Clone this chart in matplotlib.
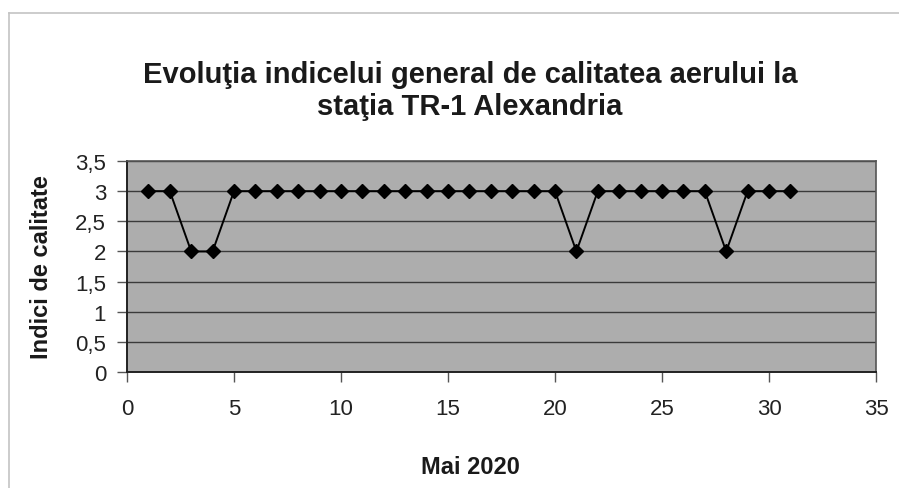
import matplotlib
matplotlib.use("Agg")
import matplotlib.pyplot as plt
import matplotlib.ticker as mticker
from matplotlib.lines import Line2D

plt.rcParams.update({
    "font.family": ["Liberation Sans", "DejaVu Sans"],
    "font.size": 16,
})

# Daily general air-quality index, TR-1 Alexandria, May 2020
days = list(range(1, 32))
index = [3, 3, 2, 2, 3, 3, 3, 3, 3, 3,
         3, 3, 3, 3, 3, 3, 3, 3, 3, 3,
         2, 3, 3, 3, 3, 3, 3, 2, 3, 3, 3]

y_ticks = [0, 0.5, 1, 1.5, 2, 2.5, 3, 3.5]
x_ticks = [0, 5, 10, 15, 20, 25, 30, 35]

PLOT_BG = "#adadad"
GRID_COLOR = "#3a3a3a"

fig = plt.figure(figsize=(8.99, 4.89), dpi=100)
ax = fig.add_axes([127 / 899, 1 - 373 / 489, (876 - 127) / 899, (373 - 162) / 489])

ax.set_facecolor(PLOT_BG)
ax.plot(days, index, color="black", lw=1.4, marker="D", markersize=7,
        markerfacecolor="black", markeredgecolor="black", zorder=3)

ax.set_xlim(0, 35)
ax.set_ylim(0, 3.5)
ax.set_xticks(x_ticks)
ax.set_yticks(y_ticks)
ax.yaxis.set_major_formatter(mticker.FuncFormatter(lambda v, p: f"{v:g}".replace(".", ",")))
ax.tick_params(axis="both", direction="out", length=7, width=1, color="#555555",
               labelsize=16, labelcolor="#222222")
ax.tick_params(axis="x", pad=12)
ax.tick_params(axis="y", pad=8)

ax.grid(True, axis="y", color=GRID_COLOR, lw=1.0)
ax.set_axisbelow(True)
for side in ["top", "right"]:
    ax.spines[side].set_color("#555555")
    ax.spines[side].set_linewidth(1.2)
for side in ["left", "bottom"]:
    ax.spines[side].set_color("#222222")
    ax.spines[side].set_linewidth(1.4)

ax.set_ylabel("Indici de calitate", fontsize=17, fontweight="bold", color="#1a1a1a")
ax.yaxis.set_label_coords((53 - 127) / (876 - 127), 0.5)
fig.text(470 / 899, 1 - 468 / 489, "Mai 2020", ha="center", va="center",
         fontsize=17, fontweight="bold", color="#1a1a1a")

fig.text(470 / 899, 1 - 91 / 489,
         "Evoluţia indicelui general de calitatea aerului la\nstaţia TR-1 Alexandria",
         ha="center", va="center", fontsize=21, fontweight="bold",
         color="#1a1a1a", linespacing=1.22)

# chart frame (left and top edges visible in the scan)
fig.add_artist(Line2D([9 / 899, 9 / 899], [0, 1 - 14 / 489], transform=fig.transFigure,
                      color="#c4c4c4", lw=1.2))
fig.add_artist(Line2D([9 / 899, 1], [1 - 14 / 489, 1 - 14 / 489], transform=fig.transFigure,
                      color="#c4c4c4", lw=1.2))

fig.savefig("out.png", dpi=100, facecolor="white")
